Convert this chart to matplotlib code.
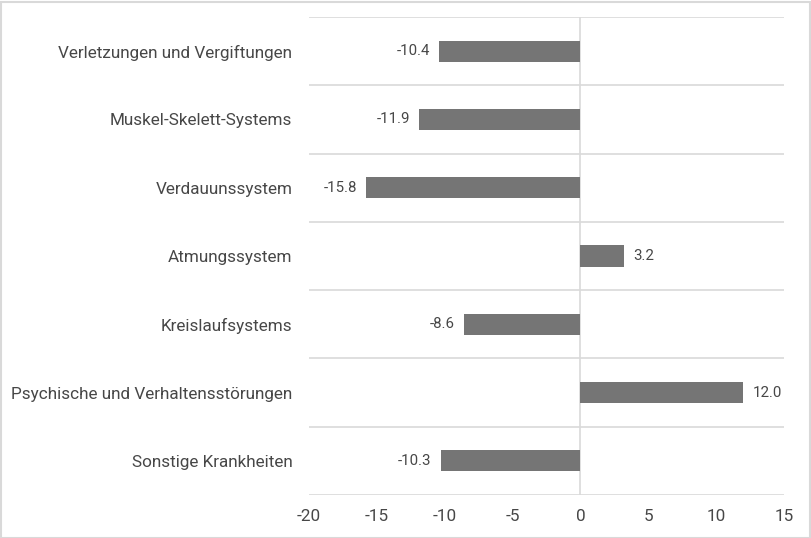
import matplotlib
matplotlib.use("Agg")
import matplotlib.pyplot as plt
from matplotlib.patches import Rectangle

categories = ["Verletzungen und Vergiftungen", "Muskel-Skelett-Systems", "Verdauunssystem",
              "Atmungssystem", "Kreislaufsystems", "Psychische und Verhaltensstörungen",
              "Sonstige Krankheiten"]
values = [-10.4, -11.9, -15.8, 3.2, -8.6, 12.0, -10.3]
xticks = [-20, -15, -10, -5, 0, 5, 10, 15]

plt.rcParams['font.family'] = ['Roboto', 'DejaVu Sans']

fig = plt.figure(figsize=(8.12, 5.38), dpi=100)
ax = fig.add_axes([309/812, 1-495/538, (784-309)/812, (495-17)/538])

text_col = "#474747"
grid_col = "#d9d9d9"
bar_col = "#757575"

pos = list(range(len(categories)))
ax.barh(pos, values, height=0.31, color=bar_col, zorder=3)

ax.set_ylim(len(categories)-0.5, -0.5)
ax.set_xlim(xticks[0], xticks[-1])
ax.set_xticks(xticks)
ax.set_xticklabels([str(t) for t in xticks], fontsize=12.3, color=text_col)
ax.set_yticks(pos)
ax.set_yticklabels(categories, fontsize=12.3, color=text_col)
ax.set_yticks([p - 0.5 for p in pos] + [pos[-1] + 0.5], minor=True)
ax.tick_params(axis='y', which='both', length=0, pad=12)
ax.tick_params(axis='x', length=0, pad=10)
ax.grid(which='minor', axis='y', color=grid_col, linewidth=1.2, zorder=0)
ax.grid(which='major', visible=False)
for s in ax.spines.values():
    s.set_visible(False)
ax.axvline(0, color=grid_col, linewidth=1.2, zorder=2)

for p, v in zip(pos, values):
    if v < 0:
        ax.annotate(f"{v:.1f}", (v, p), xytext=(-6.5, 0), textcoords='offset points',
                    ha='right', va='center', fontsize=10.8, color=text_col)
    else:
        ax.annotate(f"{v:.1f}", (v, p), xytext=(6.5, 0), textcoords='offset points',
                    ha='left', va='center', fontsize=10.8, color=text_col)

fig.patches.append(Rectangle((0.5/812, 0.5/538), 1-2/812, 1-2.5/538, transform=fig.transFigure,
                             fill=False, edgecolor="#d9d9d9", linewidth=1.5))

fig.savefig("out.png", dpi=100)
